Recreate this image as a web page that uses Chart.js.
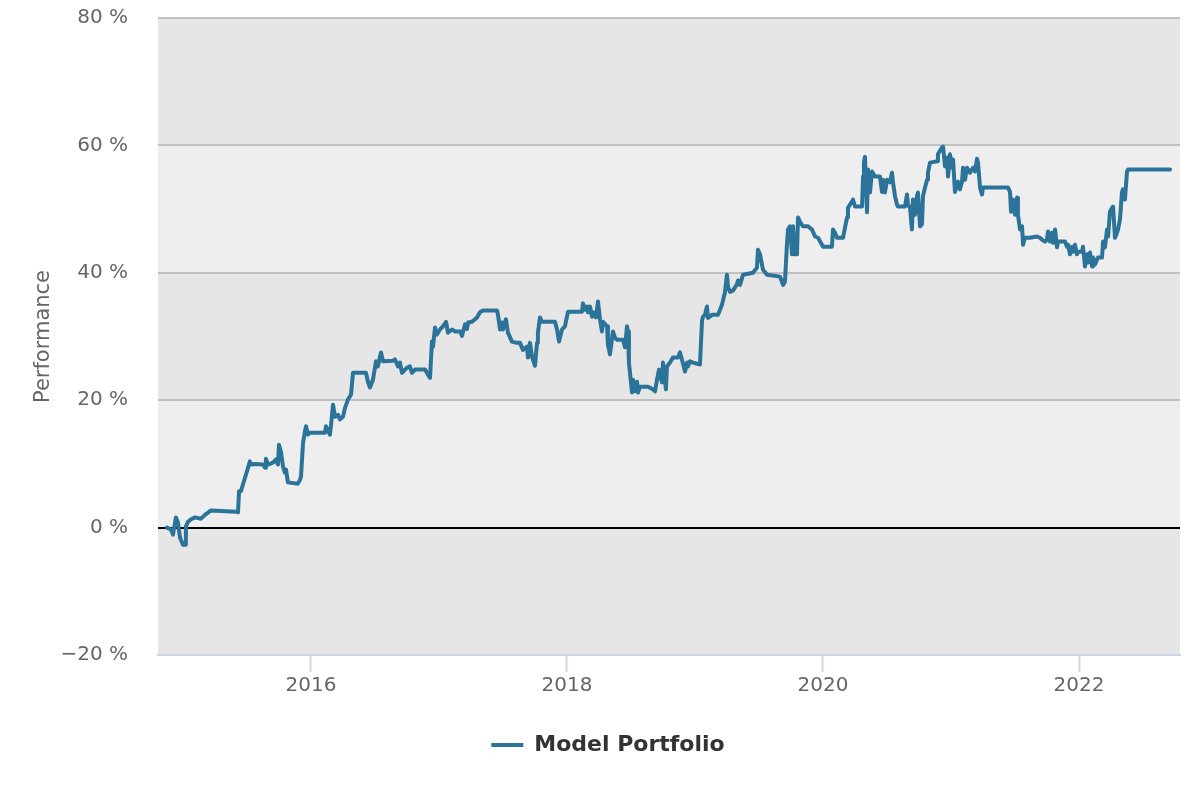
<!DOCTYPE html>
<html>
<head>
<meta charset="utf-8">
<script src="https://cdn.jsdelivr.net/npm/chart.js@4"></script>
<style>
  html, body { margin: 0; padding: 0; background: #ffffff; }
  #wrap { width: 1200px; height: 800px; }
</style>
</head>
<body>
<div id="wrap"><canvas id="perf"></canvas></div>
<script>
// decimal years and cumulative performance in %
const years = [
    2014.875, 2014.906, 2014.922, 2014.945, 2014.961, 2014.977, 2015.000, 2015.016, 2015.023, 2015.039,
    2015.063, 2015.094, 2015.141, 2015.172, 2015.219, 2015.414, 2015.430, 2015.438, 2015.453, 2015.469,
    2015.492, 2015.523, 2015.531, 2015.563, 2015.625, 2015.641, 2015.648, 2015.664, 2015.703, 2015.727,
    2015.742, 2015.750, 2015.766, 2015.781, 2015.797, 2015.805, 2015.820, 2015.898, 2015.914, 2015.922,
    2015.938, 2015.953, 2015.961, 2015.977, 2015.992, 2016.109, 2016.117, 2016.148, 2016.156, 2016.172,
    2016.188, 2016.211, 2016.227, 2016.250, 2016.266, 2016.289, 2016.313, 2016.328, 2016.430, 2016.445,
    2016.461, 2016.484, 2016.508, 2016.523, 2016.547, 2016.563, 2016.641, 2016.656, 2016.680, 2016.695,
    2016.711, 2016.750, 2016.773, 2016.789, 2016.813, 2016.891, 2016.906, 2016.914, 2016.930, 2016.945,
    2016.953, 2016.969, 2016.984, 2017.008, 2017.031, 2017.055, 2017.070, 2017.102, 2017.125, 2017.164,
    2017.180, 2017.203, 2017.219, 2017.227, 2017.258, 2017.297, 2017.320, 2017.344, 2017.453, 2017.461,
    2017.477, 2017.492, 2017.500, 2017.523, 2017.539, 2017.570, 2017.609, 2017.633, 2017.656, 2017.688,
    2017.695, 2017.711, 2017.727, 2017.750, 2017.766, 2017.773, 2017.789, 2017.805, 2017.906, 2017.922,
    2017.938, 2017.961, 2017.984, 2018.008, 2018.117, 2018.125, 2018.141, 2018.156, 2018.164, 2018.180,
    2018.195, 2018.203, 2018.227, 2018.242, 2018.258, 2018.273, 2018.281, 2018.313, 2018.320, 2018.336,
    2018.359, 2018.375, 2018.391, 2018.438, 2018.453, 2018.469, 2018.477, 2018.484, 2018.508, 2018.516,
    2018.531, 2018.547, 2018.555, 2018.570, 2018.633, 2018.672, 2018.688, 2018.703, 2018.719, 2018.742,
    2018.750, 2018.773, 2018.781, 2018.805, 2018.828, 2018.867, 2018.883, 2018.898, 2018.922, 2018.938,
    2018.945, 2018.961, 2018.984, 2019.039, 2019.055, 2019.063, 2019.078, 2019.094, 2019.102, 2019.133,
    2019.180, 2019.211, 2019.234, 2019.250, 2019.258, 2019.273, 2019.297, 2019.328, 2019.336, 2019.352,
    2019.375, 2019.453, 2019.484, 2019.492, 2019.508, 2019.531, 2019.563, 2019.664, 2019.688, 2019.703,
    2019.719, 2019.727, 2019.742, 2019.758, 2019.766, 2019.781, 2019.797, 2019.805, 2019.820, 2019.844,
    2019.883, 2019.914, 2019.938, 2019.961, 2019.992, 2020.000, 2020.070, 2020.078, 2020.094, 2020.109,
    2020.156, 2020.172, 2020.188, 2020.195, 2020.211, 2020.227, 2020.234, 2020.250, 2020.305, 2020.313,
    2020.320, 2020.328, 2020.336, 2020.344, 2020.352, 2020.367, 2020.383, 2020.406, 2020.445, 2020.461,
    2020.469, 2020.484, 2020.500, 2020.523, 2020.539, 2020.547, 2020.563, 2020.578, 2020.586, 2020.641,
    2020.656, 2020.664, 2020.680, 2020.695, 2020.703, 2020.719, 2020.734, 2020.742, 2020.758, 2020.773,
    2020.781, 2020.797, 2020.813, 2020.820, 2020.836, 2020.891, 2020.898, 2020.930, 2020.938, 2020.953,
    2020.969, 2020.977, 2020.992, 2021.008, 2021.016, 2021.031, 2021.055, 2021.070, 2021.086, 2021.094,
    2021.109, 2021.125, 2021.148, 2021.172, 2021.188, 2021.203, 2021.211, 2021.227, 2021.242, 2021.250,
    2021.445, 2021.461, 2021.469, 2021.484, 2021.500, 2021.516, 2021.523, 2021.539, 2021.555, 2021.563,
    2021.578, 2021.617, 2021.672, 2021.695, 2021.711, 2021.734, 2021.750, 2021.758, 2021.773, 2021.789,
    2021.797, 2021.813, 2021.828, 2021.836, 2021.891, 2021.906, 2021.914, 2021.930, 2021.945, 2021.953,
    2021.969, 2021.984, 2021.992, 2022.023, 2022.031, 2022.047, 2022.063, 2022.070, 2022.086, 2022.102,
    2022.109, 2022.125, 2022.148, 2022.180, 2022.188, 2022.203, 2022.219, 2022.227, 2022.242, 2022.258,
    2022.266, 2022.281, 2022.297, 2022.305, 2022.320, 2022.336, 2022.344, 2022.359, 2022.375, 2022.383,
    2022.711
];

const performance = [
    0.0, -0.3, -1.1, 1.6, 0.8, -1.6, -2.7, -2.7, 0.2, 0.9,
    1.3, 1.6, 1.4, 2.0, 2.7, 2.5, 2.4, 5.7, 5.7, 6.8,
    8.3, 10.4, 9.9, 10.0, 9.9, 9.4, 10.8, 9.9, 10.2, 10.7,
    9.9, 13.0, 11.9, 9.6, 8.6, 9.1, 7.1, 6.9, 7.5, 8.0,
    13.3, 15.1, 15.9, 14.6, 14.9, 14.9, 15.9, 14.6, 15.9, 19.3,
    17.4, 17.7, 17.0, 17.4, 18.8, 20.1, 20.9, 24.3, 24.3, 22.9,
    22.0, 23.2, 26.1, 25.3, 27.5, 26.1, 26.2, 26.4, 25.3, 25.9,
    24.3, 25.1, 25.3, 24.3, 24.8, 24.8, 24.3, 24.0, 23.5, 29.2,
    28.4, 31.4, 30.3, 31.1, 31.6, 32.3, 30.6, 31.1, 30.8, 30.8,
    30.1, 31.9, 31.2, 32.2, 32.3, 33.0, 33.8, 34.1, 34.1, 33.4,
    31.1, 32.2, 31.1, 32.7, 30.6, 29.2, 29.0, 29.0, 27.9, 28.4,
    26.7, 29.0, 26.8, 25.4, 29.0, 30.6, 33.0, 32.3, 32.3, 31.1,
    29.2, 31.1, 31.6, 33.9, 33.9, 35.2, 34.2, 34.7, 33.8, 34.7,
    33.1, 33.8, 33.0, 35.5, 32.7, 30.8, 32.3, 31.6, 28.7, 27.2,
    30.8, 29.8, 29.5, 29.5, 28.3, 31.6, 30.8, 25.9, 21.2, 23.2,
    21.4, 22.9, 21.2, 22.1, 22.1, 21.7, 21.4, 23.2, 24.8, 22.8,
    25.9, 21.7, 25.3, 25.9, 26.7, 26.7, 27.5, 26.4, 24.5, 25.9,
    25.3, 26.1, 25.9, 25.6, 32.5, 33.1, 33.4, 34.7, 32.9, 33.4,
    33.4, 35.0, 36.9, 39.7, 37.8, 37.0, 37.2, 38.2, 38.8, 38.1,
    39.7, 40.0, 40.8, 43.6, 42.9, 40.5, 39.7, 39.4, 38.1, 38.6,
    44.7, 46.8, 47.3, 42.9, 47.3, 42.9, 42.9, 48.7, 48.0, 47.3,
    47.3, 46.8, 45.7, 45.5, 44.4, 44.1, 44.1, 46.8, 46.3, 45.5,
    45.5, 47.1, 48.7, 50.2, 50.7, 51.2, 51.5, 50.4, 50.4, 55.1,
    57.3, 58.2, 53.8, 49.5, 56.2, 52.6, 55.9, 55.1, 55.1, 52.7,
    54.6, 52.6, 54.6, 54.2, 55.7, 54.2, 52.0, 50.7, 50.4, 50.4,
    52.3, 50.7, 50.2, 46.8, 51.5, 49.1, 52.0, 52.6, 47.3, 47.6,
    52.0, 53.4, 54.6, 55.7, 57.3, 57.5, 58.6, 59.7, 59.8, 56.7,
    58.1, 55.1, 58.6, 56.5, 57.8, 52.7, 54.3, 53.1, 54.3, 56.5,
    54.6, 56.5, 55.7, 56.5, 55.9, 57.9, 57.3, 53.4, 52.3, 53.4,
    53.4, 52.7, 49.6, 51.5, 49.1, 51.8, 49.1, 46.8, 47.3, 44.4,
    45.5, 45.5, 45.7, 45.5, 45.2, 44.9, 45.2, 46.5, 44.9, 46.3,
    44.7, 46.8, 44.0, 44.9, 44.9, 44.1, 44.4, 42.9, 44.1, 43.3,
    44.4, 42.9, 43.3, 43.3, 44.1, 41.0, 42.9, 41.6, 43.2, 41.0,
    42.4, 41.3, 42.4, 42.4, 44.9, 44.0, 46.8, 45.7, 49.6, 50.2,
    50.4, 45.5, 46.3, 46.8, 48.4, 52.7, 53.1, 51.5, 55.9, 56.2,
    56.2
];

const xTickYears = [2016, 2018, 2020, 2022];
const yTicks = [-20, 0, 20, 40, 60, 80];
const seriesName = 'Model Portfolio';
const axisTitle = 'Performance';

const lineColor = '#2b7399';
const bandDark = '#e6e6e6';
const bandLight = '#eeeeee';
const axisBlue = '#ccd6eb';

// alternating horizontal plot bands behind the grid
const plotBands = {
    id: 'plotBands',
    beforeDraw(chart) {
        const { ctx, chartArea, scales } = chart;
        const y = scales.y;
        ctx.save();
        for (let i = 0; i < yTicks.length - 1; i++) {
            const top = y.getPixelForValue(yTicks[i + 1]);
            const bottom = y.getPixelForValue(yTicks[i]);
            ctx.fillStyle = i % 2 === 0 ? bandDark : bandLight;
            ctx.fillRect(chartArea.left, top, chartArea.right - chartArea.left, bottom - top);
        }
        ctx.restore();
    }
};

// nudge the legend so it sits centred on the whole canvas, not the padded box
const legendNudge = {
    id: 'legendNudge',
    afterLayout(chart) {
        if (chart.legend) {
            chart.legend.left += 18;
            chart.legend.right += 18;
        }
    }
};

const points = years.map((year, i) => ({ x: year, y: performance[i] }));

new Chart(document.getElementById('perf').getContext('2d'), {
    type: 'line',
    data: {
        datasets: [{
            label: seriesName,
            data: points,
            borderColor: lineColor,
            backgroundColor: lineColor,
            borderWidth: 4,
            pointRadius: 0,
            pointHoverRadius: 0,
            tension: 0,
            borderJoinStyle: 'round',
            borderCapStyle: 'round',
            fill: false
        }]
    },
    options: {
        responsive: true,
        maintainAspectRatio: false,
        animation: false,
        layout: {
            padding: { top: 18, right: 20, bottom: 34, left: 0 }
        },
        plugins: {
            tooltip: { enabled: false },
            legend: {
                position: 'bottom',
                labels: {
                    color: '#333333',
                    font: { family: "'DejaVu Sans', sans-serif", size: 22, weight: 'bold' },
                    boxWidth: 32,
                    boxHeight: 4,
                    padding: 10,
                    generateLabels() {
                        return [{
                            text: seriesName,
                            fillStyle: lineColor,
                            strokeStyle: lineColor,
                            lineWidth: 0,
                            datasetIndex: 0,
                            fontColor: '#333333'
                        }];
                    }
                }
            }
        },
        scales: {
            x: {
                type: 'linear',
                min: 2014.805,
                max: 2022.789,
                afterBuildTicks(scale) {
                    scale.ticks = xTickYears.map((v) => ({ value: v }));
                },
                afterFit(scale) {
                    scale.height = 69;
                    scale.paddingLeft = 0;
                    scale.paddingRight = 0;
                },
                grid: {
                    drawOnChartArea: false,
                    drawTicks: true,
                    tickLength: 17,
                    tickColor: axisBlue,
                    tickWidth: 2
                },
                border: { display: true, color: axisBlue, width: 2 },
                ticks: {
                    color: '#666666',
                    font: { family: "'DejaVu Sans', sans-serif", size: 20 },
                    padding: 2,
                    maxRotation: 0,
                    callback: (value) => String(value)
                }
            },
            y: {
                min: -20,
                max: 80,
                afterBuildTicks(scale) {
                    scale.ticks = yTicks.map((v) => ({ value: v }));
                },
                afterFit(scale) {
                    scale.width = 158;
                    scale.paddingTop = 0;
                    scale.paddingBottom = 0;
                },
                border: { display: false },
                grid: {
                    drawTicks: false,
                    lineWidth: 2,
                    color: (ctx) => {
                        if (ctx.tick.value === 0) return '#000000';
                        if (ctx.tick.value === -20) return axisBlue;
                        return '#c0c0c0';
                    }
                },
                ticks: {
                    color: '#666666',
                    font: { family: "'DejaVu Sans', sans-serif", size: 20 },
                    padding: 30,
                    callback: (value) => String(value).replace('-', '\u2212') + ' %'
                },
                title: {
                    display: true,
                    text: axisTitle,
                    color: '#666666',
                    font: { family: "'DejaVu Sans', sans-serif", size: 21 },
                    padding: { top: 31, bottom: 0 }
                }
            }
        }
    },
    plugins: [plotBands, legendNudge]
});
</script>
</body>
</html>
